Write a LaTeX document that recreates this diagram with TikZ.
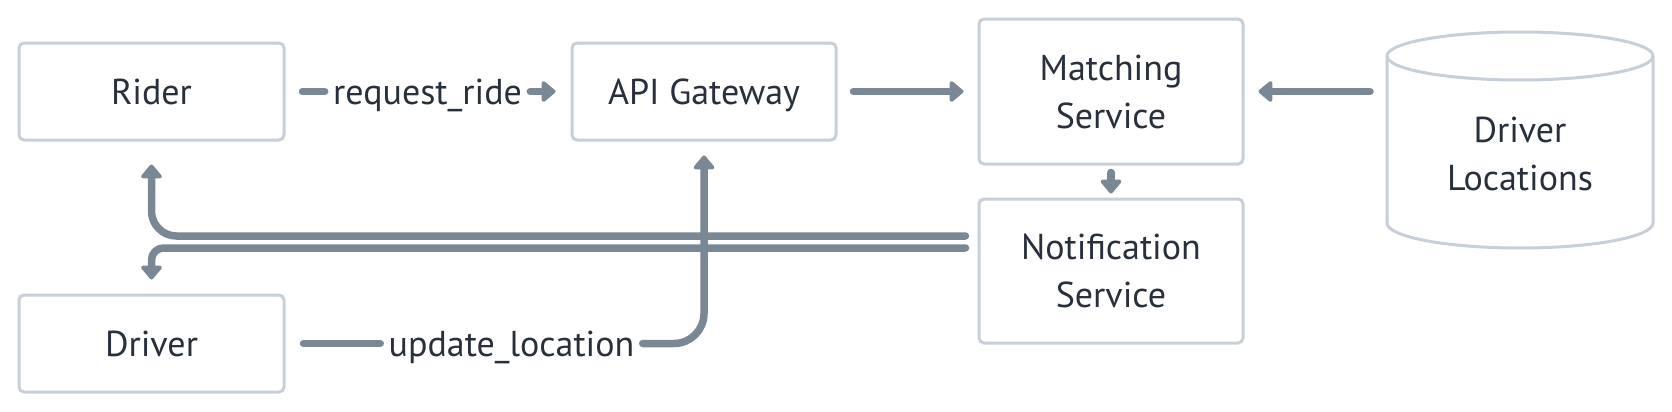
\documentclass[tikz,border=0pt]{standalone}
\usepackage{fontspec}
\setmainfont{PT Sans}
\usetikzlibrary{arrows.meta,calc}
\definecolor{bordc}{HTML}{C7D0D8}
\definecolor{linec}{HTML}{7A8795}
\definecolor{textc}{HTML}{27303B}
\begin{document}
\begin{tikzpicture}[x=0.5pt,y=-0.5pt,
  txtfont/.style={text=textc, font=\fontsize{18}{24}\selectfont},
  box/.style={draw=bordc, line width=1.5pt, rounded corners=2.5pt, fill=white, txtfont, align=center, inner sep=0pt},
  onel/.style={text depth=0pt},
  conn/.style={draw=linec, line width=3.75pt, line cap=round, line join=round},
  arr/.style={conn, -{Triangle[width=12pt,length=7.5pt,round]}},
  lbl/.style={txtfont, inner xsep=4pt, inner ysep=0pt, text depth=0pt, anchor=center},
]
\useasboundingbox (0,0) rectangle (1672,412);
% boxes
\node[box, onel, minimum width=132.5pt, minimum height=48.5pt] (rider) at (151.5,91.5) {Rider};
\node[box, onel, minimum width=132pt, minimum height=48.5pt] (api) at (704,91.5) {API Gateway};
\node[box, minimum width=132pt, minimum height=72.5pt] (match) at (1111,91.5) {Matching\\Service};
\node[box, minimum width=132pt, minimum height=72pt] (notif) at (1111,271) {Notification\\Service};
\node[box, onel, minimum width=132.5pt, minimum height=48.5pt] (driver) at (151.5,343.5) {Driver};
% cylinder
\draw[draw=bordc, line width=1.5pt, fill=white]
  (1387,56) -- (1387,223) arc[start angle=180, end angle=360, x radius=66.5pt, y radius=12.5pt]
  -- (1653,56) arc[start angle=0, end angle=180, x radius=66.5pt, y radius=12pt] -- cycle;
\draw[draw=bordc, line width=1.5pt] (1387,56) arc[start angle=180, end angle=360, x radius=66.5pt, y radius=12pt];
\node[txtfont, align=center, inner sep=0pt] (db) at (1520,153.5) {Driver\\Locations};
\coordinate (dbw) at (1370,91.5);
% labels
\node[lbl] (rr) at (427.5,91.5) {request\_ride};
\node[lbl] (ul) at (511.5,343.5) {update\_location};
% connectors
\draw[conn] ($(rider.east)+(17,0)$) -- (rr.west);
\draw[arr] (rr.east) -- ($(api.west)+(-15,0)$);
\draw[arr] ($(api.east)+(16,0)$) -- ($(match.west)+(-14,0)$);
\draw[arr] (dbw) -- ($(match.east)+(14,0)$);
\draw[arr] ($(match.south)+(0,7)$) -- ($(notif.north)+(0,-4)$);
\draw[arr, rounded corners=12.5pt] ($(notif.west)+(-12,-35)$) -| ($(rider.south)+(0,23)$);
\draw[arr, rounded corners=6pt] ($(notif.west)+(-12,-23)$) -| ($(driver.north)+(0,-14)$);
\draw[conn] ($(driver.east)+(18,0)$) -- (ul.west);
\draw[arr, rounded corners=15pt] (ul.east) -| ($(api.south)+(0,14)$);
\end{tikzpicture}
\end{document}
